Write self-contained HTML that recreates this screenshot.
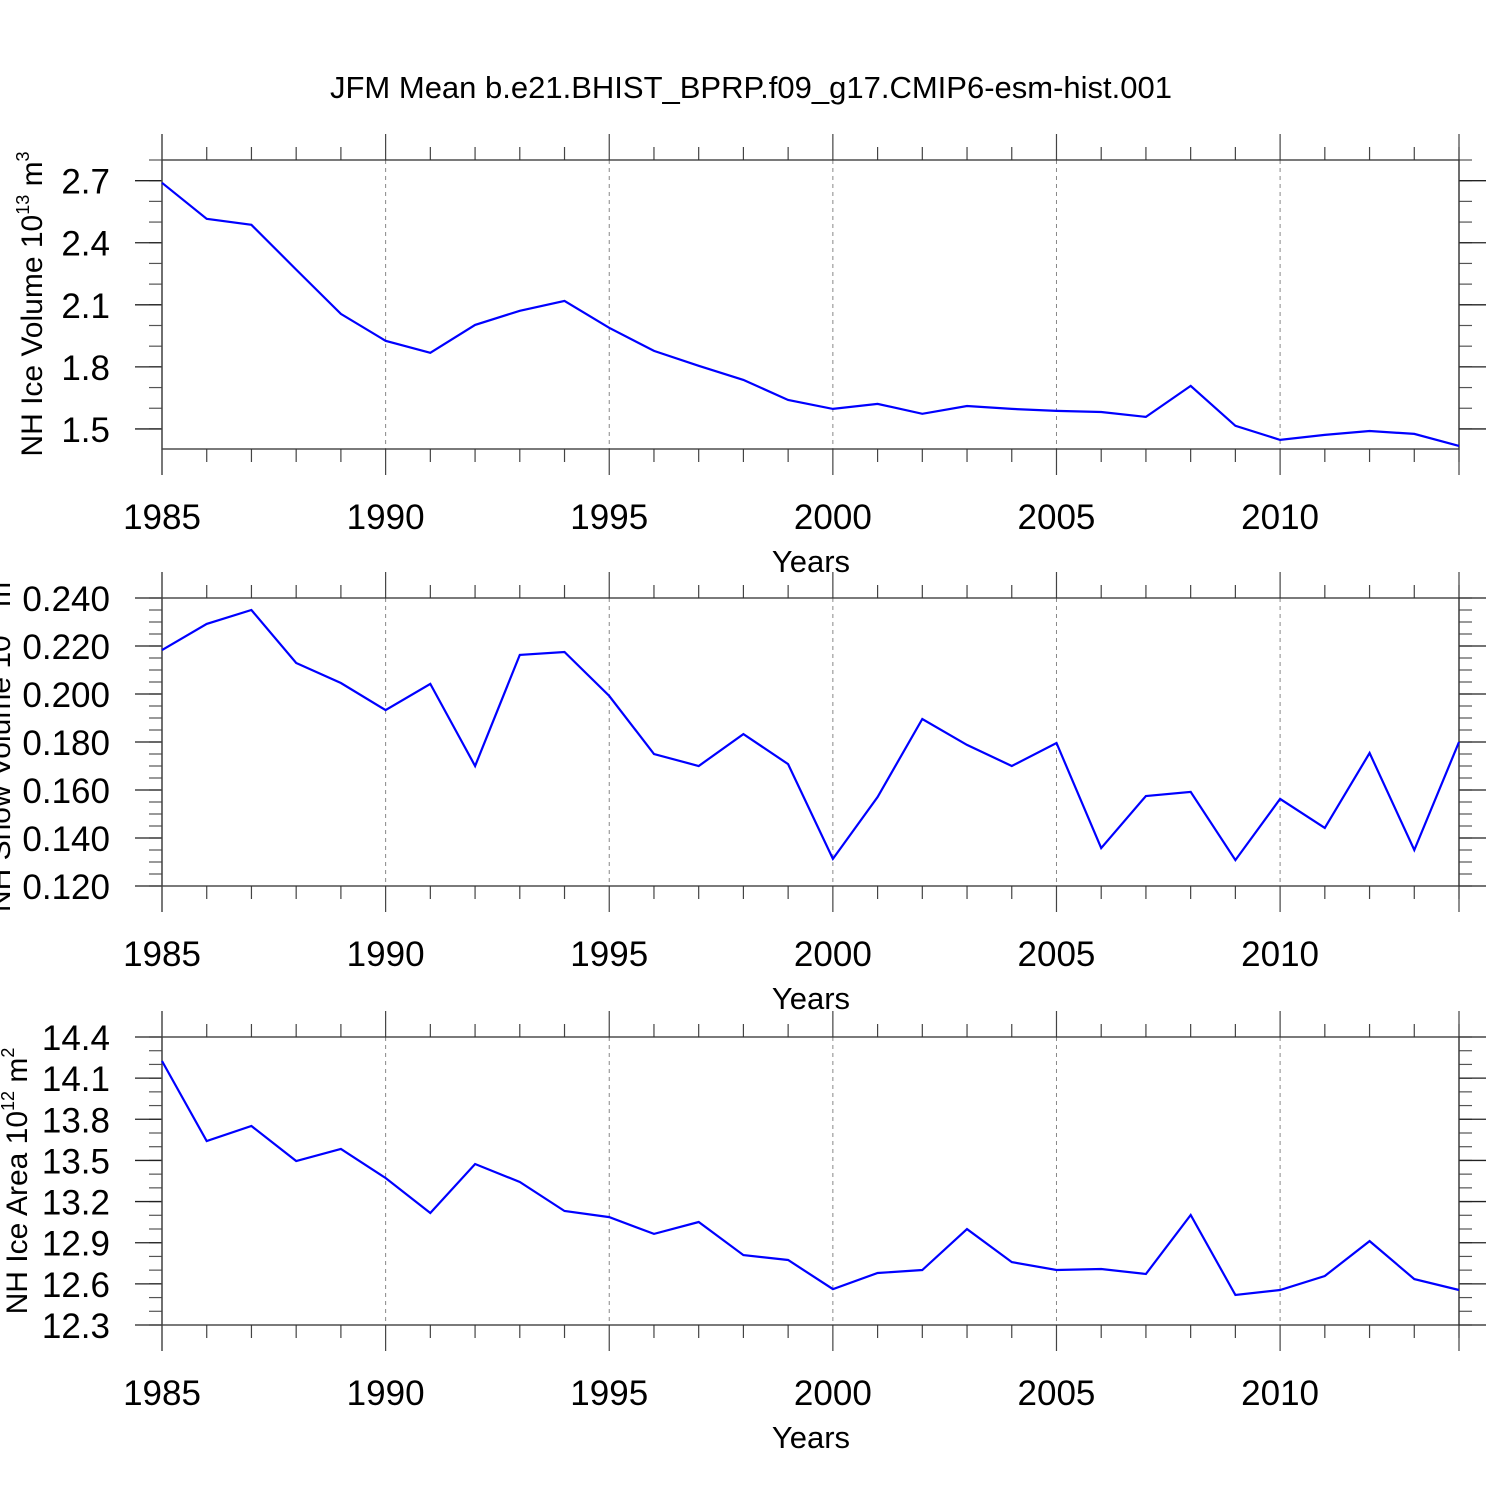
<!DOCTYPE html>
<html><head><meta charset="utf-8"><style>
body{margin:0;background:#fff}
svg text{font-family:"Liberation Sans",sans-serif;fill:#000}
</style></head><body>
<svg id="c" width="1500" height="1500" xmlns="http://www.w3.org/2000/svg">
<text x="751" y="98" font-size="31" text-anchor="middle">JFM Mean b.e21.BHIST_BPRP.f09_g17.CMIP6-esm-hist.001</text>
</svg>
<script>
const years = [1985,1986,1987,1988,1989,1990,1991,1992,1993,1994,1995,1996,1997,1998,1999,2000,2001,2002,2003,2004,2005,2006,2007,2008,2009,2010,2011,2012,2013,2014];
const iceVolume = [2.69,2.516,2.487,2.27,2.056,1.926,1.868,2.003,2.071,2.119,1.989,1.877,1.805,1.737,1.640,1.597,1.621,1.573,1.611,1.597,1.587,1.582,1.558,1.708,1.515,1.447,1.471,1.490,1.476,1.418];
const snowVolume = [0.2183,0.2292,0.235,0.2129,0.2046,0.1933,0.2042,0.170,0.2163,0.2175,0.1992,0.175,0.170,0.1833,0.1708,0.1313,0.1571,0.1896,0.1788,0.170,0.1796,0.1358,0.1575,0.1592,0.1308,0.1563,0.1442,0.1754,0.135,0.180];
const iceArea = [14.225,13.642,13.751,13.496,13.583,13.372,13.117,13.474,13.343,13.131,13.087,12.964,13.051,12.810,12.774,12.562,12.679,12.701,12.999,12.759,12.701,12.708,12.672,13.102,12.519,12.555,12.657,12.912,12.635,12.555];
const xTickLabels = [1985,1990,1995,2000,2005,2010];
const volTicks = ["1.5","1.8","2.1","2.4","2.7"];
const snowTicks = ["0.120","0.140","0.160","0.180","0.200","0.220","0.240"];
const areaTicks = ["12.3","12.6","12.9","13.2","13.5","13.8","14.1","14.4"];

const svg = document.getElementById('c');
const NS = 'http://www.w3.org/2000/svg';
function mk(tag, attrs, parent){const e=document.createElementNS(NS,tag);for(const k in attrs)e.setAttribute(k,attrs[k]);(parent||svg).appendChild(e);return e;}
const X0=162, X1=1459;
function xs(y){return X0+(y-1985)/(2014-1985)*(X1-X0);}

const panels = [
 {name:'ice-volume',top:160,bot:449,ymin:1.403,ymax:2.8,data:iceVolume,ticks:volTicks,minor:0.1,label:'NH Ice Volume 10',sup:'13',unit:'3',lx:32,yl:304},
 {name:'snow-volume',top:598,bot:886,ymin:0.12,ymax:0.24,data:snowVolume,ticks:snowTicks,minor:0.005,label:'NH Snow Volume 10',sup:'13',unit:'3',lx:0,yl:742},
 {name:'ice-area',top:1037,bot:1325,ymin:12.3,ymax:14.4,data:iceArea,ticks:areaTicks,minor:0.1,label:'NH Ice Area 10',sup:'12',unit:'2',lx:17,yl:1181}
];
panels.forEach(p=>{
  const g=mk('g',{});
  
  
  const ys=v=>p.bot-(v-p.ymin)/(p.ymax-p.ymin)*(p.bot-p.top);
  xTickLabels.forEach(y=>{ if(y>1985) mk('line',{x1:xs(y),x2:xs(y),y1:p.top,y2:p.bot,stroke:'#888','stroke-width':1,'stroke-dasharray':'4,4'},g);});
  years.forEach(y=>{
    const maj=(y-1985)%5===0; const L=maj?26:13;
    const x=xs(y);
    mk('line',{x1:x,x2:x,y1:p.top-L,y2:p.top,stroke:'#444','stroke-width':1.2},g);
    mk('line',{x1:x,x2:x,y1:p.bot,y2:p.bot+L,stroke:'#444','stroke-width':1.2},g);
  });
  mk('line',{x1:xs(2014),x2:xs(2014),y1:p.top-26,y2:p.bot+26,stroke:'#444','stroke-width':1.2},g);
  const n=Math.round((p.ymax-p.ymin)/p.minor)+2;
  const start=Math.ceil(p.ymin/p.minor-1e-6)*p.minor;
  for(let i=0;i<n;i++){const v=start+i*p.minor; if(v>p.ymax+1e-9)break; const y=ys(v);
    mk('line',{x1:X0-13,x2:X0,y1:y,y2:y,stroke:'#555','stroke-width':1.2},g);
    mk('line',{x1:X1,x2:X1+13,y1:y,y2:y,stroke:'#555','stroke-width':1.2},g);}
  p.ticks.forEach(t=>{const y=ys(parseFloat(t));
    mk('line',{x1:X0-27,x2:X0,y1:y,y2:y,stroke:'#222','stroke-width':1.3},g);
    mk('line',{x1:X1,x2:X1+27,y1:y,y2:y,stroke:'#222','stroke-width':1.3},g);
    const tx=mk('text',{x:110,y:y+13,'font-size':35,'text-anchor':'end'},g);
    
    
    tx.textContent=t;});
  mk('rect',{x:X0,y:p.top,width:X1-X0,height:p.bot-p.top,fill:'none',stroke:'#333','stroke-width':1.3},g);
  mk('line',{x1:X0,x2:X0,y1:p.top-26,y2:p.bot+26,stroke:'#444','stroke-width':1.3},g);
  xTickLabels.forEach(y=>{const tx=mk('text',{x:xs(y),y:p.bot+80,'font-size':35,'text-anchor':'middle'},g);
    
    
    tx.textContent=y;});
  const xt=mk('text',{x:811,y:p.bot+123,'font-size':31,'text-anchor':'middle'},g);
  
  
  xt.textContent='Years';
  const yt=mk('text',{x:0,y:0,'font-size':30,'text-anchor':'middle',transform:`translate(${p.lx+10},${p.yl}) rotate(-90)`},g);
  
  
  const s1=document.createElementNS(NS,'tspan');s1.textContent=p.label;yt.appendChild(s1);
  const s2=document.createElementNS(NS,'tspan');s2.setAttribute('dy','-13');s2.setAttribute('font-size','18');s2.textContent=p.sup;yt.appendChild(s2);
  const s3=document.createElementNS(NS,'tspan');s3.setAttribute('dy','13');s3.textContent=' m';yt.appendChild(s3);
  const s4=document.createElementNS(NS,'tspan');s4.setAttribute('dy','-13');s4.setAttribute('font-size','18');s4.textContent=p.unit;yt.appendChild(s4);
  const pts=p.data.map((v,i)=>xs(years[i]).toFixed(1)+','+ys(v).toFixed(1)).join(' ');
  const pl=mk('polyline',{points:pts,fill:'none',stroke:'#0000ff','stroke-width':2.2},g);
  
  
});
</script>
</body></html>
